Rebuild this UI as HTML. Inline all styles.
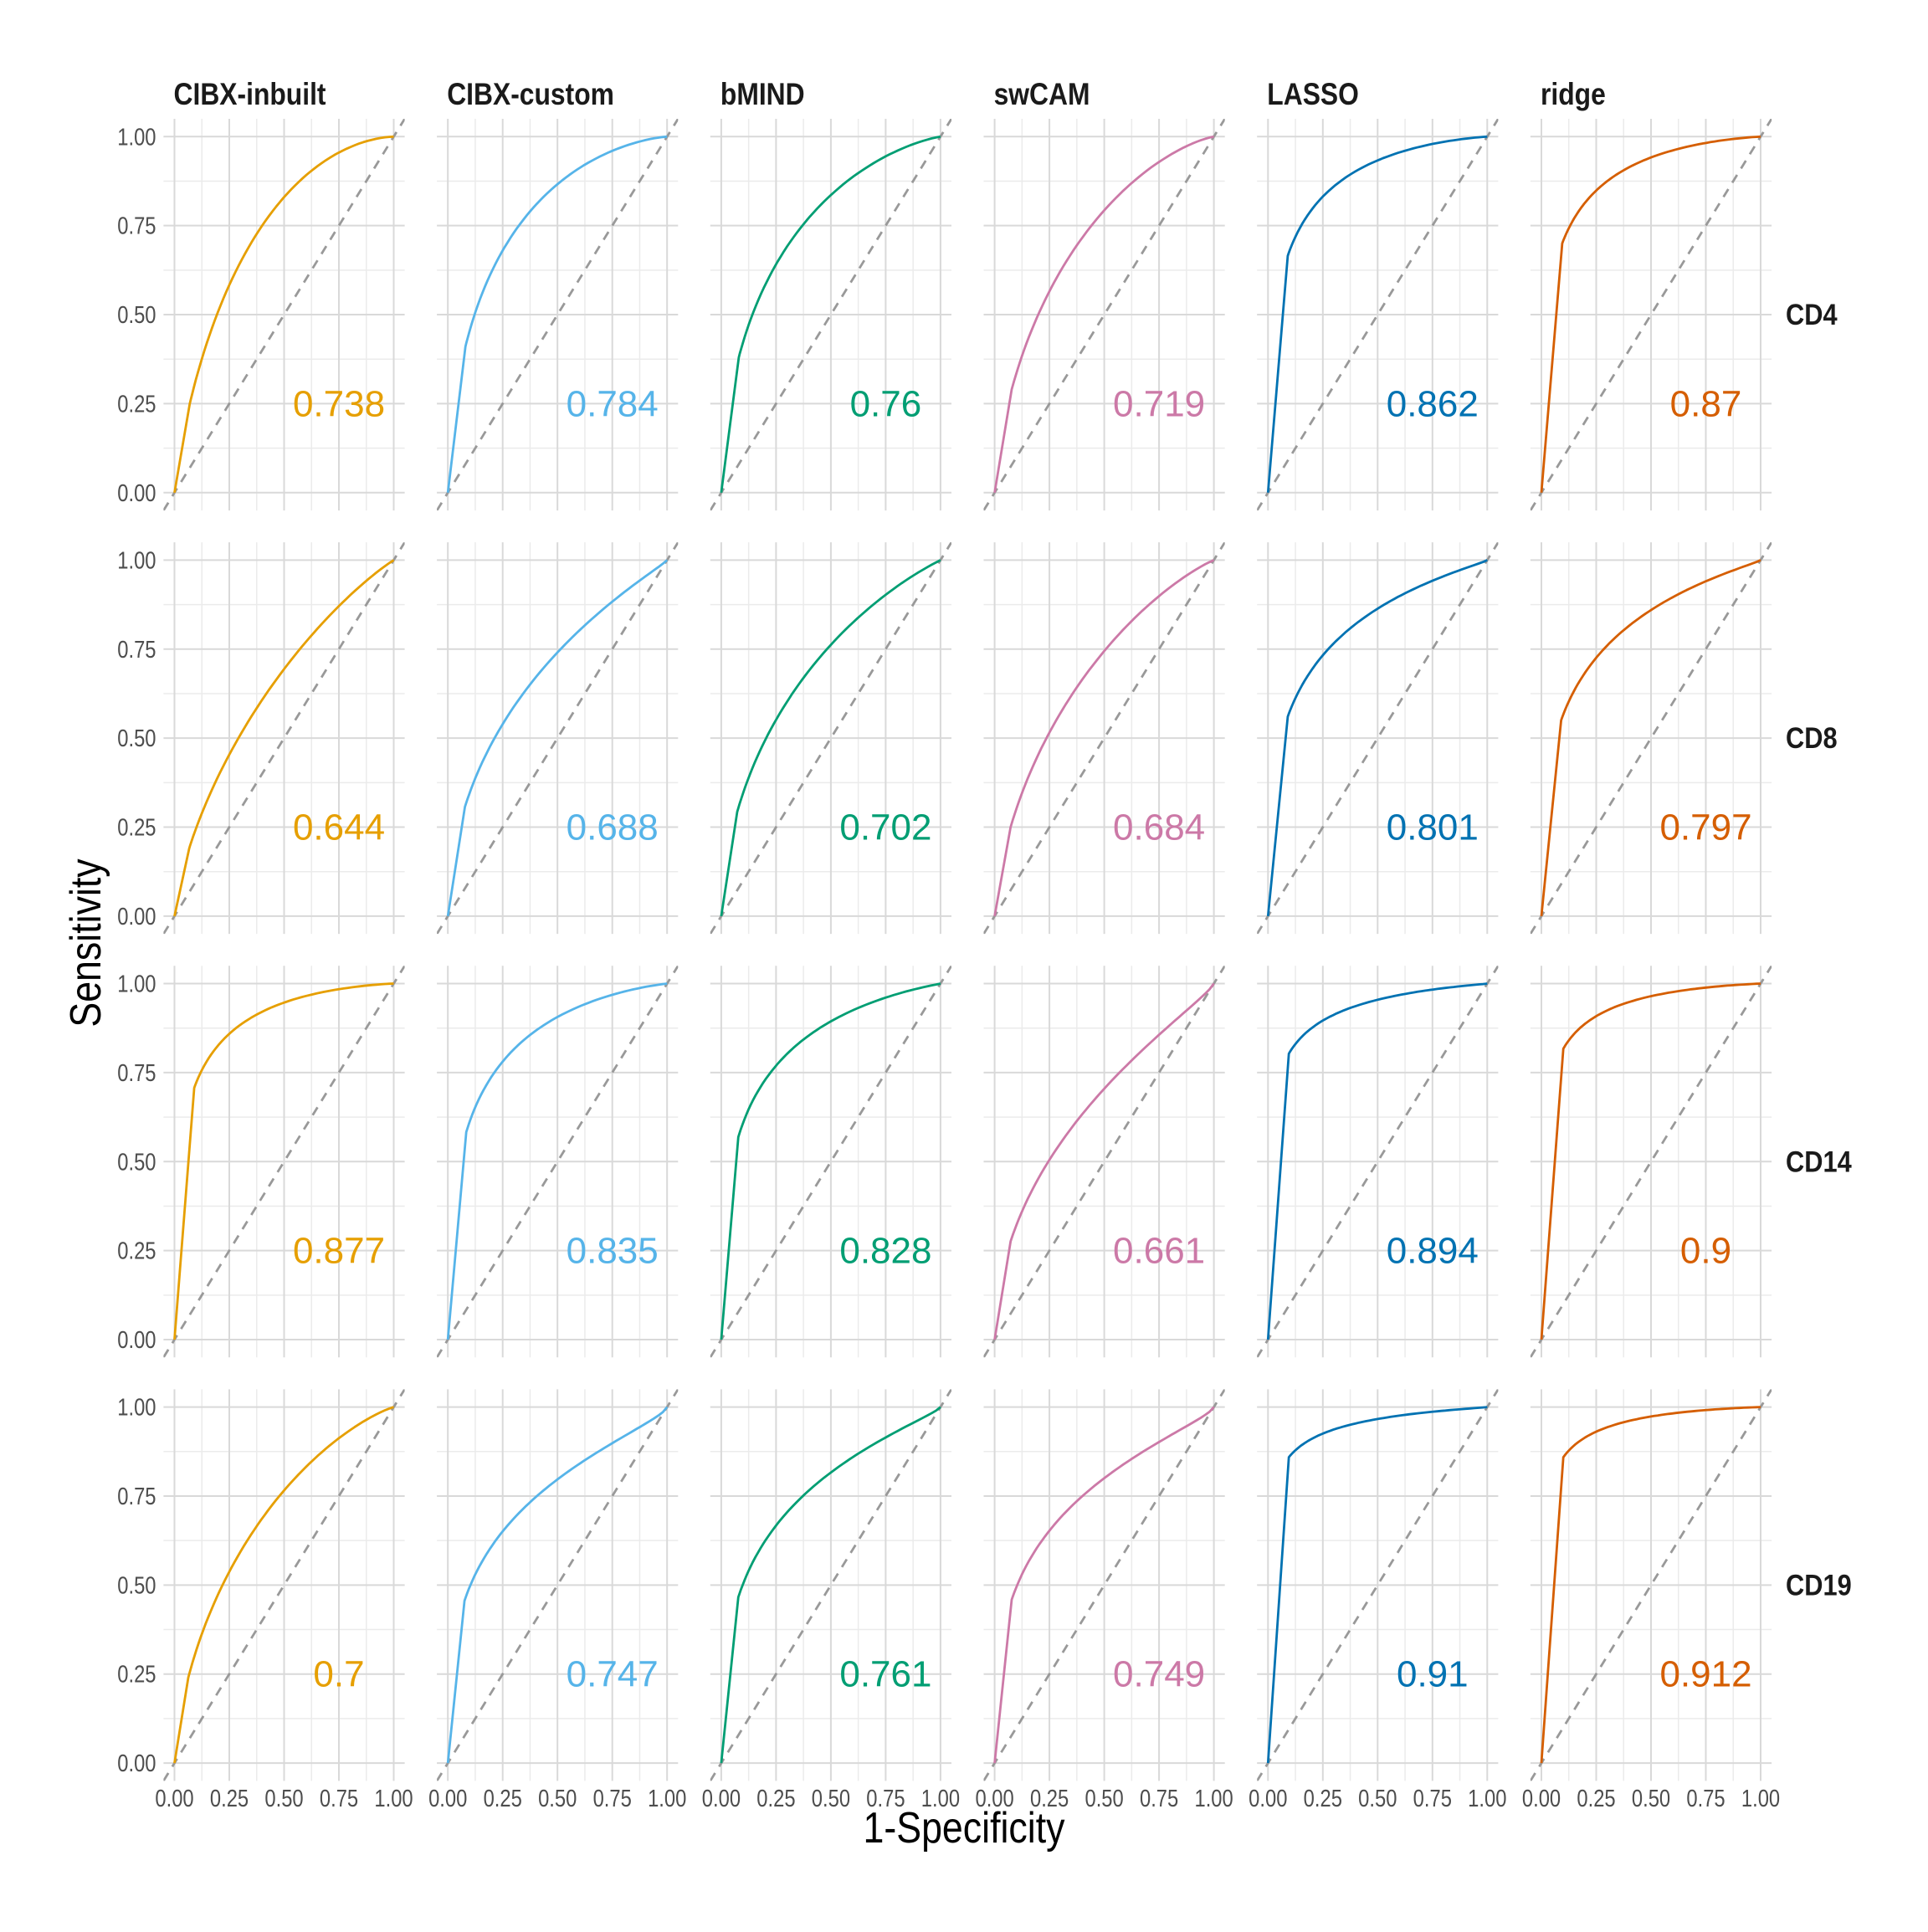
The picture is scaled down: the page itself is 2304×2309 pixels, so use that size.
<!DOCTYPE html>
<html><head><meta charset="utf-8">
<style>
html,body{margin:0;padding:0;background:#fff;}
svg text{font-family:"Liberation Sans Narrow","Liberation Sans",sans-serif;}
</style></head>
<body>
<svg id="s" xmlns="http://www.w3.org/2000/svg" width="2304" height="2304" viewBox="0 0 2304 2304">
<rect width="2304" height="2304" fill="#fff"/>
</svg>
<script>
const NS="http://www.w3.org/2000/svg";
const svg=document.getElementById('s');
function el(t,a,txt){const e=document.createElementNS(NS,t);for(const k in a)e.setAttribute(k,a[k]);if(txt!==undefined)e.textContent=txt;svg.appendChild(e);return e;}
function ntext(x,y,s,a,txt){a.transform='translate('+x+','+y+') scale('+s+',1)';a.x=0;a.y=0;return el('text',a,txt);}
function erf(x){const t=1/(1+0.3275911*Math.abs(x));const y=1-(((((1.061405429*t-1.453152027)*t)+1.421413741)*t-0.284496736)*t+0.254829592)*t*Math.exp(-x*x);return x>=0?y:-y;}
function Phi(x){return 0.5*(1+erf(x/Math.SQRT2));}
function Pinv(p){let lo=-9,hi=9;for(let i=0;i<60;i++){const m=(lo+hi)/2;if(Phi(m)<p)lo=m;else hi=m;}return (lo+hi)/2;}
const X0=208.5, PX=326.7, UX=262, Y1=163.3, PY=506.1, UY=425.5;
const cols=["CIBX-inbuilt","CIBX-custom","bMIND","swCAM","LASSO","ridge"];
const colors=["#E69F00","#56B4E9","#009E73","#CC79A7","#0072B2","#D55E00"];
const rows=["CD4","CD8","CD14","CD19"];
const auc=[["0.738","0.784","0.76","0.719","0.862","0.87"],
["0.644","0.688","0.702","0.684","0.801","0.797"],
["0.877","0.835","0.828","0.661","0.894","0.9"],
["0.7","0.747","0.761","0.749","0.91","0.912"]];
const fp=[[[0.07,0.25],[0.08,0.41],[0.08,0.38],[0.078,0.29],[0.09,0.665],[0.095,0.70]],
[[0.067,0.19],[0.078,0.307],[0.073,0.293],[0.073,0.25],[0.09,0.56],[0.09,0.55]],
[[0.09,0.707],[0.084,0.583],[0.078,0.569],[0.073,0.276],[0.095,0.803],[0.10,0.817]],
[[0.063,0.24],[0.076,0.456],[0.078,0.466],[0.078,0.459],[0.095,0.859],[0.10,0.859]]];
const ticks=["0.00","0.25","0.50","0.75","1.00"];
const SC=0.82;
const defs=el('defs',{});
const N=60;
function curvePts(x1,y1,b){const a=Pinv(y1)-b*Pinv(x1);const pts=[];
  for(let i=0;i<=N;i++){const x=x1+(1-x1)*Math.pow(i/N,1.3);const y=(x>=1)?1:Phi(a+b*Pinv(x));pts.push([x,y]);}return pts;}
function area(pts,x1,y1){let s=x1*y1/2;for(let i=1;i<pts.length;i++)s+=(pts[i][0]-pts[i-1][0])*(pts[i][1]+pts[i-1][1])/2;return s;}
for(let r=0;r<4;r++)for(let c=0;c<6;c++){
  const x0=X0+c*PX, y0=Y1+r*PY+UY;
  const px=v=>x0+v*UX, py=v=>y0-v*UY;
  const L=px(-0.05),R=px(1.05),T=py(1.05),B=py(-0.05);
  const cid='c'+r+'_'+c;
  const cp=document.createElementNS(NS,'clipPath');cp.setAttribute('id',cid);
  const cr=document.createElementNS(NS,'rect');cr.setAttribute('x',L);cr.setAttribute('y',T);cr.setAttribute('width',R-L);cr.setAttribute('height',B-T);
  cp.appendChild(cr);defs.appendChild(cp);
  for(let i=0;i<4;i++){const v=0.125+0.25*i;
    el('line',{x1:px(v),x2:px(v),y1:T,y2:B,stroke:'#ebebeb','stroke-width':1.5});
    el('line',{x1:L,x2:R,y1:py(v),y2:py(v),stroke:'#ebebeb','stroke-width':1.5});}
  for(let i=0;i<5;i++){const v=0.25*i;
    el('line',{x1:px(v),x2:px(v),y1:T,y2:B,stroke:'#d9d9d9','stroke-width':2});
    el('line',{x1:L,x2:R,y1:py(v),y2:py(v),stroke:'#d9d9d9','stroke-width':2});}
  el('line',{x1:px(-0.05),y1:py(-0.05),x2:px(1.05),y2:py(1.05),stroke:'#999999','stroke-width':2.8,'stroke-dasharray':'11 9','clip-path':'url(#'+cid+')'});
  const [x1,y1]=fp[r][c]; const A=parseFloat(auc[r][c]);
  let lo=0.05,hi=3;
  for(let i=0;i<40;i++){const m=(lo+hi)/2;if(area(curvePts(x1,y1,m),x1,y1)<A)lo=m;else hi=m;}
  const pts=[[0,0]].concat(curvePts(x1,y1,(lo+hi)/2));
  el('polyline',{points:pts.map(p=>px(p[0]).toFixed(1)+','+py(p[1]).toFixed(1)).join(' '),fill:'none',stroke:colors[c],'stroke-width':2.8,'stroke-linejoin':'round'});
  el('text',{x:px(0.75),y:py(0.25)+15,'text-anchor':'middle','font-size':44,fill:colors[c],style:'font-family:"Liberation Sans",sans-serif'},auc[r][c]);
  if(c==0){for(let i=0;i<5;i++)ntext(186.5,py(0.25*i)+10,SC,{'text-anchor':'end','font-size':29,fill:'#4d4d4d'},ticks[i]);}
  if(r==3){for(let i=0;i<5;i++)ntext(px(0.25*i),2159,SC,{'text-anchor':'middle','font-size':29,fill:'#4d4d4d'},ticks[i]);}
  if(r==0){ntext(x0-1,125,0.86,{'font-size':37,'font-weight':'bold',fill:'#1a1a1a'},cols[c]);}
  if(c==5){ntext(2134,py(0.5)+12,0.88,{'font-size':35,'font-weight':'bold',fill:'#1a1a1a'},rows[r]);}
}
ntext(1152,2202,0.86,{'text-anchor':'middle','font-size':52,fill:'#000'},'1-Specificity');
el('text',{x:0,y:0,'text-anchor':'middle','font-size':52,fill:'#000',transform:'translate(120,1127) rotate(-90) scale(0.86,1)'},'Sensitivity');
</script>
</body></html>
